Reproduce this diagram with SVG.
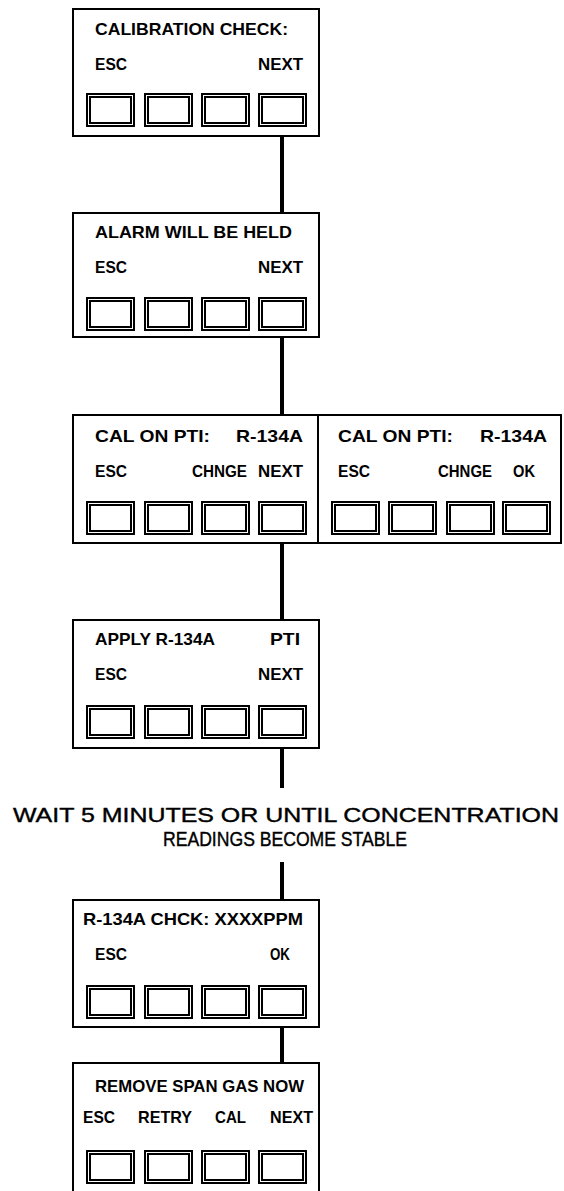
<svg xmlns="http://www.w3.org/2000/svg" width="564" height="1191" viewBox="0 0 564 1191">
<style>
.box{fill:#fff;stroke:#000;stroke-width:2}
.bo{fill:none;stroke:#000;stroke-width:2}
.bi{fill:none;stroke:#000;stroke-width:2}
.t{font-family:"Liberation Sans",Arial,sans-serif;font-weight:bold;font-size:16.5px;fill:#000}
.w{font-family:"Liberation Sans",Arial,sans-serif;font-size:21px;fill:#000;stroke:#000;stroke-width:0.4}
.c{stroke:#000;stroke-width:4;fill:none}
</style>
<defs>
<g id="btn"><rect class="bo" x="0" y="0" width="47" height="32"/><rect class="bi" x="3" y="3" width="41" height="26"/></g>
<g id="row"><use href="#btn" x="0"/><use href="#btn" x="58"/><use href="#btn" x="115"/><use href="#btn" x="172"/></g>
</defs>
<rect width="564" height="1191" fill="#fff"/>
<g id="connectors">
<line class="c" x1="282" y1="136" x2="282" y2="213"/>
<line class="c" x1="282" y1="337" x2="282" y2="415"/>
<line class="c" x1="282" y1="543" x2="282" y2="620"/>
<line class="c" x1="282" y1="748" x2="282" y2="788"/>
<line class="c" x1="282" y1="862" x2="282" y2="900"/>
<line class="c" x1="282" y1="1027" x2="282" y2="1063"/>
</g>
<g id="n1">
<rect class="box" x="73" y="9" width="246" height="127"/>
<text class="t" x="95" y="35" textLength="193" lengthAdjust="spacingAndGlyphs">CALIBRATION CHECK:</text>
<text class="t" x="95" y="70" textLength="32" lengthAdjust="spacingAndGlyphs">ESC</text>
<text class="t" x="258" y="70" textLength="45" lengthAdjust="spacingAndGlyphs">NEXT</text>
<use href="#row" x="87" y="94"/>
</g>
<g id="n2">
<rect class="box" x="73" y="213" width="246" height="124"/>
<text class="t" x="95" y="238" textLength="197" lengthAdjust="spacingAndGlyphs">ALARM WILL BE HELD</text>
<text class="t" x="95" y="273" textLength="32" lengthAdjust="spacingAndGlyphs">ESC</text>
<text class="t" x="258" y="273" textLength="45" lengthAdjust="spacingAndGlyphs">NEXT</text>
<use href="#row" x="87" y="298"/>
</g>
<g id="n3">
<rect class="box" x="73" y="415" width="245" height="128"/>
<text class="t" x="95" y="442" textLength="115" lengthAdjust="spacingAndGlyphs">CAL ON PTI:</text>
<text class="t" x="236" y="442" textLength="67" lengthAdjust="spacingAndGlyphs">R-134A</text>
<text class="t" x="95" y="477" textLength="32" lengthAdjust="spacingAndGlyphs">ESC</text>
<text class="t" x="192" y="477" textLength="55" lengthAdjust="spacingAndGlyphs">CHNGE</text>
<text class="t" x="258" y="477" textLength="45" lengthAdjust="spacingAndGlyphs">NEXT</text>
<use href="#row" x="87" y="502"/>
</g>
<g id="n4">
<rect class="box" x="318" y="415" width="243" height="128"/>
<text class="t" x="338" y="442" textLength="115" lengthAdjust="spacingAndGlyphs">CAL ON PTI:</text>
<text class="t" x="480" y="442" textLength="67" lengthAdjust="spacingAndGlyphs">R-134A</text>
<text class="t" x="338" y="477" textLength="32" lengthAdjust="spacingAndGlyphs">ESC</text>
<text class="t" x="438" y="477" textLength="54" lengthAdjust="spacingAndGlyphs">CHNGE</text>
<text class="t" x="513" y="477" textLength="22" lengthAdjust="spacingAndGlyphs">OK</text>
<use href="#btn" x="332" y="502"/><use href="#btn" x="389" y="502"/><use href="#btn" x="447" y="502"/><use href="#btn" x="503" y="502"/>
</g>
<g id="n5">
<rect class="box" x="73" y="620" width="246" height="128"/>
<text class="t" x="95" y="645" textLength="120" lengthAdjust="spacingAndGlyphs">APPLY R-134A</text>
<text class="t" x="270" y="645" textLength="30" lengthAdjust="spacingAndGlyphs">PTI</text>
<text class="t" x="95" y="680" textLength="32" lengthAdjust="spacingAndGlyphs">ESC</text>
<text class="t" x="258" y="680" textLength="45" lengthAdjust="spacingAndGlyphs">NEXT</text>
<use href="#row" x="87" y="706"/>
</g>
<g id="n6">
<text class="w" x="286" y="822" text-anchor="middle" textLength="546" lengthAdjust="spacingAndGlyphs">WAIT 5 MINUTES OR UNTIL CONCENTRATION</text>
<text class="w" x="285" y="846" text-anchor="middle" textLength="244" lengthAdjust="spacingAndGlyphs">READINGS BECOME STABLE</text>
</g>
<g id="n7">
<rect class="box" x="73" y="900" width="246" height="127"/>
<text class="t" x="83" y="925" textLength="220" lengthAdjust="spacingAndGlyphs">R-134A CHCK: XXXXPPM</text>
<text class="t" x="95" y="960" textLength="32" lengthAdjust="spacingAndGlyphs">ESC</text>
<text class="t" x="270" y="960" textLength="20" lengthAdjust="spacingAndGlyphs">OK</text>
<use href="#row" x="87" y="986"/>
</g>
<g id="n8">
<rect class="box" x="73" y="1063" width="246" height="130"/>
<text class="t" x="95" y="1092" textLength="209" lengthAdjust="spacingAndGlyphs">REMOVE SPAN GAS NOW</text>
<text class="t" x="83" y="1123" textLength="32" lengthAdjust="spacingAndGlyphs">ESC</text>
<text class="t" x="138" y="1123" textLength="54" lengthAdjust="spacingAndGlyphs">RETRY</text>
<text class="t" x="215" y="1123" textLength="31" lengthAdjust="spacingAndGlyphs">CAL</text>
<text class="t" x="270" y="1123" textLength="43" lengthAdjust="spacingAndGlyphs">NEXT</text>
<use href="#row" x="87" y="1151"/>
</g>
</svg>
